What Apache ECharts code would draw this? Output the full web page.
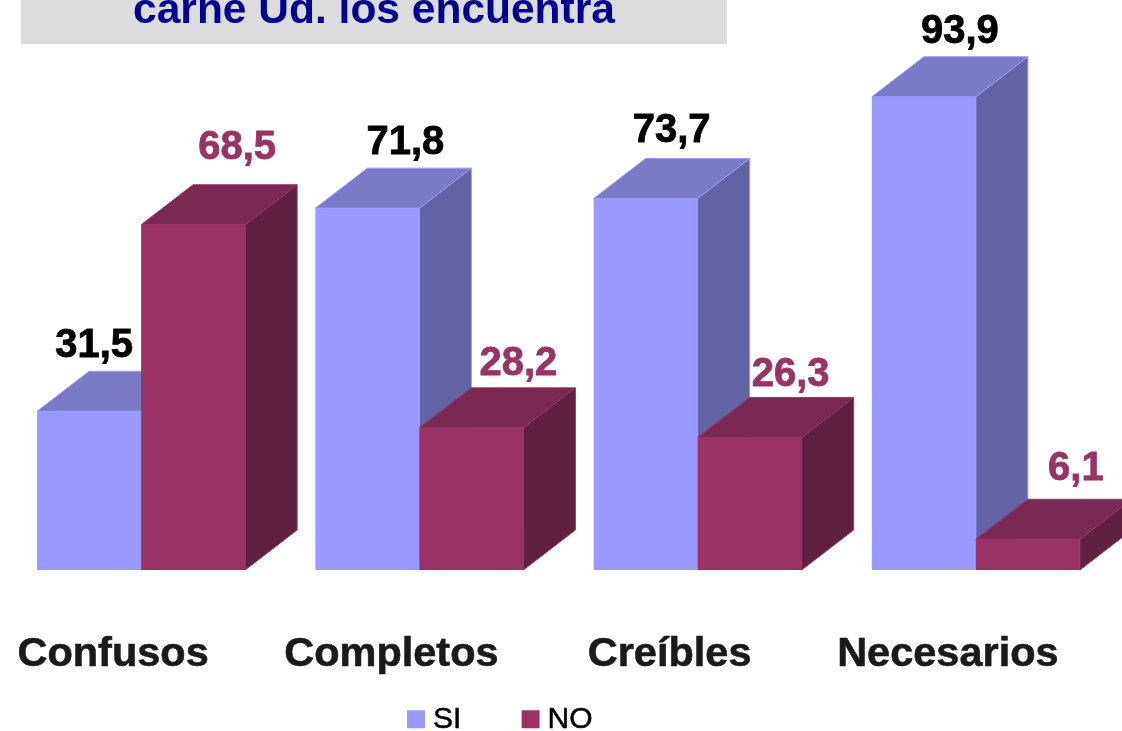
<!DOCTYPE html>
<html>
<head>
<meta charset="utf-8">
<title>carne Ud. los encuentra</title>
<style>
html, body { margin: 0; padding: 0; background: #fff; }
#grafico { width: 1122px; height: 731px; }
</style>
<script src="https://cdn.jsdelivr.net/npm/echarts@6/dist/echarts.min.js"></script>
</head>
<body>
<div id="grafico"></div>
<script>
var categorias = ['Confusos', 'Completos', 'Creíbles', 'Necesarios'];
var valoresSi = [31.5, 71.8, 73.7, 93.9];
var valoresNo = [68.5, 28.2, 26.3, 6.1];

// desplazamiento a mano de cada etiqueta, respecto al centro del frente y a la tapa
var etiquetaSi = [[5, -65], [38, -65], [26, -68], [36, -65]];
var etiquetaNo = [[44, -77], [47, -64], [41, -62], [48, -70]];

var fuente = '"Liberation Sans", Arial, sans-serif';
var ANCHO_BARRA = 104;
var FONDO_X = 52;
var FONDO_Y = 40;

function pares(lista) {
    return lista.map(function (v, i) { return [i, v]; });
}

// barra 3D: frente, tapa y lateral, mas el valor como texto
function barra3d(colores, lado, etiquetas, colorTexto) {
    return function (params, api) {
        var i = api.value(0);
        var tope = api.coord([i, api.value(1)]);
        var base = api.coord([i, 0]);
        var x0 = lado < 0 ? tope[0] - ANCHO_BARRA : tope[0];
        var x1 = x0 + ANCHO_BARRA;
        var y0 = tope[1];
        var y1 = base[1];
        var off = etiquetas[i];
        return {
            type: 'group',
            children: [{
                type: 'polygon',
                shape: { points: [[x1, y0], [x1 + FONDO_X, y0 - FONDO_Y], [x1 + FONDO_X, y1 - FONDO_Y], [x1, y1]] },
                style: { fill: colores.lado, stroke: colores.frente, lineWidth: 1 }
            }, {
                type: 'polygon',
                shape: { points: [[x0, y0], [x0 + FONDO_X, y0 - FONDO_Y], [x1 + FONDO_X, y0 - FONDO_Y], [x1, y0]] },
                style: { fill: colores.tapa, stroke: colores.frente, lineWidth: 1 }
            }, {
                type: 'rect',
                shape: { x: x0, y: y0, width: ANCHO_BARRA, height: y1 - y0 },
                style: { fill: colores.frente }
            }, {
                type: 'text',
                z2: 10,
                style: {
                    x: (x0 + x1) / 2 + off[0],
                    y: y0 + off[1],
                    text: api.value(1).toFixed(1).replace('.', ','),
                    fill: colorTexto,
                    stroke: colorTexto,
                    lineWidth: 0.8,
                    font: 'bold 40px ' + fuente,
                    align: 'center',
                    verticalAlign: 'middle'
                }
            }]
        };
    };
}

var coloresSi = { frente: '#9999ff', tapa: '#7a7ac6', lado: '#6262a4' };
var coloresNo = { frente: '#993366', tapa: '#7a2952', lado: '#602040' };

var option = {
    animation: false,
    backgroundColor: '#ffffff',
    grid: { left: 2, right: 7, top: 66, bottom: 161 },
    legend: {
        left: 402,
        top: 699,
        itemWidth: 18,
        itemHeight: 18,
        itemGap: 60,
        icon: 'rect',
        textStyle: {
            color: '#000',
            fontFamily: fuente,
            fontSize: 30,
            padding: [3, 0, 0, 3],
            textBorderColor: '#000',
            textBorderWidth: 0.5
        },
        data: ['SI', 'NO']
    },
    xAxis: {
        type: 'category',
        data: categorias,
        axisLine: { show: false },
        axisTick: { show: false },
        axisLabel: {
            interval: 0,
            hideOverlap: false,
            color: '#1a1a1a',
            fontFamily: fuente,
            fontWeight: 'bold',
            fontSize: 41.5,
            margin: 64,
            padding: [0, 56, 0, 0],
            textBorderColor: '#1a1a1a',
            textBorderWidth: 0.6
        }
    },
    yAxis: { type: 'value', min: 0, max: 100, show: false },
    graphic: [{
        type: 'rect',
        z: -1,
        shape: { x: 21, y: 0, width: 706, height: 44 },
        style: { fill: '#dcdcdc' }
    }, {
        type: 'text',
        z: 5,
        style: {
            x: 374,
            y: 33,
            text: 'carne Ud. los encuentra',
            fill: '#000099',
            font: 'bold 42.5px ' + fuente,
            align: 'center',
            verticalAlign: 'bottom'
        }
    }],
    series: [{
        name: 'SI',
        type: 'custom',
        z: 2,
        clip: false,
        itemStyle: { color: coloresSi.frente },
        renderItem: barra3d(coloresSi, -1, etiquetaSi, '#000'),
        encode: { x: 0, y: 1 },
        data: pares(valoresSi)
    }, {
        name: 'NO',
        type: 'custom',
        z: 3,
        clip: false,
        itemStyle: { color: coloresNo.frente },
        renderItem: barra3d(coloresNo, 1, etiquetaNo, '#993366'),
        encode: { x: 0, y: 1 },
        data: pares(valoresNo)
    }]
};

var grafico = echarts.init(document.getElementById('grafico'));
grafico.setOption(option);
</script>
</body>
</html>
